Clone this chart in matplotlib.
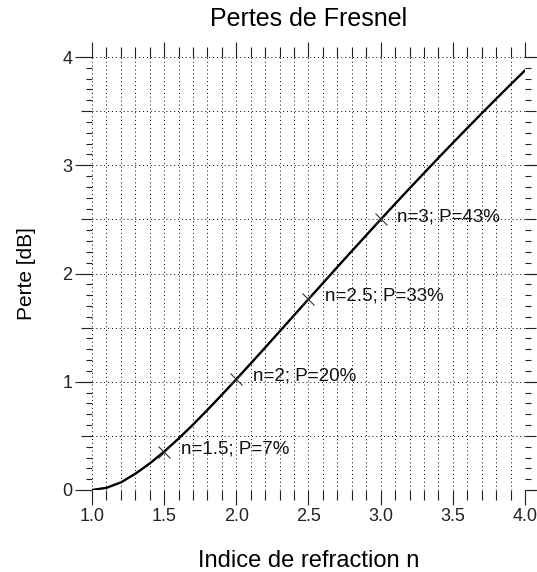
import numpy as np
import matplotlib
matplotlib.use("Agg")
import matplotlib.pyplot as plt
from matplotlib.ticker import MultipleLocator, FixedLocator, FuncFormatter

# refractive index vs Fresnel loss (dB)
n_vals = [1.0, 1.1, 1.2, 1.3, 1.4, 1.5, 1.6, 1.7, 1.8, 1.9, 2.0,
          2.1, 2.2, 2.3, 2.4, 2.5, 2.6, 2.7, 2.8, 2.9, 3.0,
          3.1, 3.2, 3.3, 3.4, 3.5, 3.6, 3.7, 3.8, 3.9, 4.0]
loss_db = [0.0, 0.02, 0.07, 0.15, 0.245, 0.355, 0.475, 0.604, 0.74, 0.88, 1.023,
           1.169, 1.316, 1.465, 1.614, 1.763, 1.911, 2.06, 2.207, 2.353, 2.499,
           2.643, 2.786, 2.927, 3.068, 3.206, 3.343, 3.479, 3.613, 3.746, 3.876]

# marked points
mark_n = [1.5, 2.0, 2.5, 3.0]
mark_db = [0.355, 1.023, 1.763, 2.499]
mark_labels = ['n=1.5; P=7%', 'n=2; P=20%', 'n=2.5; P=33%', 'n=3; P=43%']

plt.rcParams.update({
    'font.family': ['Liberation Sans', 'DejaVu Sans'],
    'xtick.color': '#222222',
    'ytick.color': '#222222',
})

fig = plt.figure(figsize=(5.37, 5.72), dpi=100)
ax = fig.add_axes([92/537, 1 - 490/572, 433/537, 433/572])

ax.plot(n_vals, loss_db, color='black', linewidth=1.7, zorder=3)
ax.plot(mark_n, mark_db, linestyle='none', marker='x', markersize=8,
        markeredgewidth=0.8, color='#333333', zorder=4)
for x, y, lab in zip(mark_n, mark_db, mark_labels):
    ax.annotate(lab, xy=(x, y), xytext=(12, 2), textcoords='offset points',
                va='center', ha='left', fontsize=13.5, color='#111111')

ax.set_xlim(1, 4)
ax.set_ylim(0, 4)
for s in ax.spines.values():
    s.set_visible(False)

# x ticks
ax.xaxis.set_major_locator(MultipleLocator(0.5))
ax.xaxis.set_minor_locator(MultipleLocator(0.1))
ax.xaxis.set_major_formatter(FuncFormatter(lambda v, _: f'{v:.1f}'))
# y ticks: 0.5 steps carry the grid, integers get labels on a secondary axis
ax.yaxis.set_major_locator(MultipleLocator(0.5))
ax.yaxis.set_minor_locator(MultipleLocator(0.1))

ax.tick_params(axis='x', which='major', direction='out', length=11, width=0.8,
               top=True, bottom=True, labelsize=13, pad=2)
ax.tick_params(axis='x', which='minor', direction='out', length=7, width=0.8,
               top=True, bottom=True)
ax.tick_params(axis='y', which='major', direction='out', length=8, width=0.8,
               left=True, right=True, labelleft=False)
ax.tick_params(axis='y', which='minor', direction='out', length=4, width=0.8,
               left=True, right=True)

for side in ['left', 'right']:
    sec = ax.secondary_yaxis(side)
    sec.yaxis.set_major_locator(FixedLocator([0, 1, 2, 3, 4]))
    sec.yaxis.set_minor_locator(FixedLocator([]))
    for s in sec.spines.values():
        s.set_visible(False)
    sec.tick_params(axis='y', which='major', direction='out', length=12, width=0.8,
                    labelsize=13, pad=2)
    if side == 'right':
        sec.tick_params(labelright=False)

ax.grid(True, axis='x', which='both', color='black', linestyle=(0, (1, 3)), linewidth=0.7)
ax.grid(True, axis='y', which='major', color='black', linestyle=(0, (1, 3)), linewidth=0.7)
ax.set_axisbelow(True)

fig.text(308.5/537, 1 - 19/572, 'Pertes de Fresnel', fontsize=18,
         ha='center', va='center')
ax.set_xlabel('Indice de refraction n', fontsize=17)
ax.xaxis.label.set_va('center')
ax.xaxis.set_label_coords(0.5, (490 - 561) / 433)
ax.set_ylabel('Perte [dB]', fontsize=15)
ax.yaxis.label.set_va('center')
ax.yaxis.set_label_coords((26 - 92) / 433, 0.5)

fig.savefig('out.png', dpi=100)
